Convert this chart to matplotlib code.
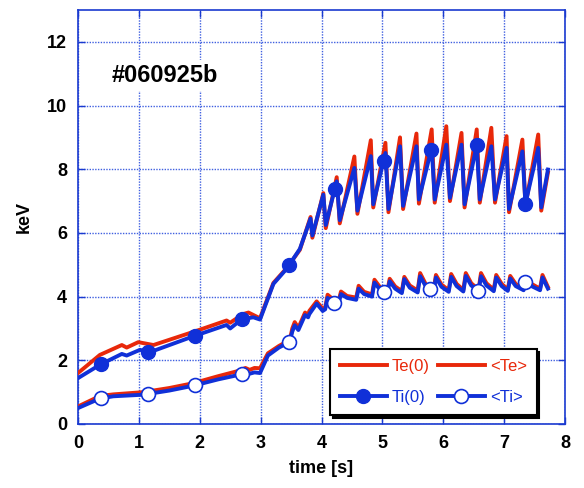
import numpy as np
import matplotlib
matplotlib.use("Agg")
import matplotlib.pyplot as plt
from matplotlib.lines import Line2D

plt.rcParams['font.family'] = ['Liberation Sans', 'DejaVu Sans']

# ---- data ----
te0_t = [0, 0.36, 0.72, 0.8, 0.99, 1.24, 2.0, 2.44, 2.5, 2.71, 2.8, 2.99, 3.21, 3.43, 3.645,
         3.82, 3.85, 4.03, 4.07, 4.25, 4.30, 4.54, 4.59, 4.81, 4.85, 5.05, 5.10, 5.29, 5.34,
         5.56, 5.60, 5.81, 5.86, 6.05, 6.11, 6.30, 6.35, 6.55, 6.60, 6.79, 6.85, 7.04, 7.08,
         7.30, 7.35, 7.56, 7.61, 7.72]
te0_v = [1.6, 2.17, 2.48, 2.4, 2.57, 2.48, 2.96, 3.25, 3.18, 3.45, 3.5, 3.32, 4.43, 4.9, 5.47,
         6.5, 5.85, 7.25, 6.15, 7.75, 6.3, 8.4, 6.6, 8.91, 6.8, 8.83, 6.65, 9.0, 6.75,
         9.12, 6.92, 9.25, 6.95, 9.35, 7.0, 9.14, 6.8, 9.25, 6.95, 9.3, 6.95, 9.04, 6.65,
         8.93, 6.85, 9.09, 6.7, 7.9]

ti0_t = [0, 0.36, 0.72, 0.8, 1.02, 1.16, 1.89, 2.44, 2.5, 2.69, 2.88, 2.99, 3.21, 3.43, 3.645,
         3.82, 3.85, 4.03, 4.07, 4.25, 4.30, 4.54, 4.59, 4.81, 4.85, 5.05, 5.10, 5.29, 5.34,
         5.56, 5.60, 5.81, 5.86, 6.05, 6.11, 6.30, 6.35, 6.55, 6.60, 6.79, 6.85, 7.04, 7.08,
         7.30, 7.35, 7.56, 7.61, 7.72]
ti0_v = [1.44, 1.86, 2.2, 2.15, 2.33, 2.24, 2.75, 3.11, 3.0, 3.29, 3.35, 3.28, 4.4, 4.88, 5.5,
         6.45, 5.92, 7.2, 6.25, 7.62, 6.4, 8.04, 6.7, 8.41, 6.9, 8.51, 6.75, 8.72, 6.85,
         8.72, 7.05, 8.67, 7.05, 8.77, 7.1, 8.77, 6.9, 8.77, 7.05, 8.72, 7.05, 8.67, 6.75,
         8.56, 6.92, 8.67, 6.8, 7.99]

tea_t = [0, 0.36, 0.58, 1.07, 1.5, 1.89, 2.3, 2.66, 2.75, 2.82, 2.9, 2.99, 3.12, 3.3, 3.48,
         3.52, 3.56, 3.62, 3.73, 3.78, 3.8, 3.92, 4.02, 4.06, 4.1, 4.2, 4.28,
         4.32, 4.42, 4.57, 4.61, 4.7, 4.83, 4.87, 4.96, 5.08, 5.12, 5.21, 5.32,
         5.36, 5.45, 5.58, 5.62, 5.71, 5.84, 5.88, 5.97, 6.09, 6.13, 6.22, 6.33,
         6.37, 6.46, 6.58, 6.62, 6.71, 6.83, 6.87, 6.96, 7.06, 7.10, 7.19, 7.32,
         7.36, 7.45, 7.59, 7.63, 7.72]
tea_v = [0.55, 0.88, 0.93, 1.0, 1.13, 1.28, 1.5, 1.68, 1.76, 1.7, 1.76, 1.75, 2.22, 2.45, 2.64,
         3.0, 3.2, 3.02, 3.5, 3.42, 3.55, 3.85, 3.62, 3.65, 4.06, 3.9, 3.85,
         4.16, 4.02, 3.97, 4.34, 4.15, 4.07, 4.53, 4.3, 4.16, 4.56, 4.32, 4.17,
         4.62, 4.35, 4.19, 4.74, 4.4, 4.2, 4.68, 4.38, 4.2, 4.71, 4.4, 4.21,
         4.74, 4.42, 4.22, 4.74, 4.42, 4.22, 4.68, 4.4, 4.22, 4.65, 4.4, 4.24,
         4.62, 4.4, 4.25, 4.68, 4.3]

tia_t = tea_t
tia_v = [0.5, 0.8, 0.87, 0.92, 1.05, 1.2, 1.4, 1.55, 1.62, 1.58, 1.62, 1.6, 2.15, 2.4, 2.58,
         2.9, 3.1, 2.95, 3.42, 3.35, 3.45, 3.78, 3.55, 3.6, 3.96, 3.82, 3.78,
         4.08, 3.96, 3.9, 4.25, 4.08, 4.0, 4.44, 4.22, 4.09, 4.48, 4.25, 4.11,
         4.55, 4.28, 4.13, 4.64, 4.33, 4.14, 4.6, 4.31, 4.15, 4.62, 4.33, 4.16,
         4.65, 4.35, 4.17, 4.64, 4.35, 4.17, 4.6, 4.33, 4.18, 4.57, 4.33, 4.2,
         4.55, 4.33, 4.2, 4.6, 4.25]

ti0_mark_t = [0.38, 1.15, 1.93, 2.7, 3.47, 4.22, 5.02, 5.8, 6.55, 7.35]
tia_mark_t = [0.38, 1.15, 1.93, 2.7, 3.47, 4.21, 5.02, 5.78, 6.57, 7.35]

shot_label = "#060925b"
xticks = [0, 1, 2, 3, 4, 5, 6, 7, 8]
yticks = [0, 2, 4, 6, 8, 10, 12]

RED = '#e8280a'
BLUE = '#1030d8'
AXC = '#1a3ad0'
GRID = '#4060e0'

fig = plt.figure(figsize=(5.84, 4.88), dpi=100)
ax = fig.add_axes([78/584, 1-424/488, (565-78)/584, (424-10)/488])

lw = 2.8
ax.plot(te0_t, te0_v, color=RED, lw=lw, solid_joinstyle='round', zorder=3)
ax.plot(tea_t, tea_v, color=RED, lw=lw, solid_joinstyle='round', zorder=3)
ax.plot(ti0_t, ti0_v, color=BLUE, lw=lw, solid_joinstyle='round', zorder=4)
ax.plot(tia_t, tia_v, color=BLUE, lw=lw, solid_joinstyle='round', zorder=4)

ax.plot(ti0_mark_t, np.interp(ti0_mark_t, ti0_t, ti0_v), 'o', color=BLUE, ms=10,
        mec=BLUE, zorder=5)
ax.plot(tia_mark_t, np.interp(tia_mark_t, tia_t, tia_v), 'o', color=BLUE, ms=10,
        mfc='white', mec=BLUE, mew=1.2, zorder=5)

ax.set_xlim(0, 8)
ax.set_ylim(0, 13)
ax.set_xticks(xticks)
ax.set_yticks(yticks)
ax.grid(True, color=GRID, ls=(0, (1, 1)), lw=1.0)
for s in ax.spines.values():
    s.set_color(AXC)
    s.set_linewidth(1.2)
ax.tick_params(direction='in', colors=AXC, length=5, width=1, top=True, right=True,
               labelsize=13, pad=8)
for lab in ax.get_xticklabels() + ax.get_yticklabels():
    lab.set_color('black')
    lab.set_fontweight('bold')

ax.set_xlabel('time [s]', fontsize=13, fontweight='bold', labelpad=6)
ax.set_ylabel('keV', fontsize=13, fontweight='bold', labelpad=10)

ax.text(0.55, 10.95, shot_label, fontsize=17, fontweight='bold', va='center', ha='left',
        bbox=dict(facecolor='white', edgecolor='none', pad=3), zorder=6)

handles = [
    Line2D([], [], color=RED, lw=lw),
    Line2D([], [], color=BLUE, lw=lw, marker='o', ms=10, mfc=BLUE, mec=BLUE),
    Line2D([], [], color=RED, lw=lw),
    Line2D([], [], color=BLUE, lw=lw, marker='o', ms=10, mfc='white', mec=BLUE, mew=1.2),
]
labels = ['Te(0)', 'Ti(0)', '<Te>', '<Ti>']
leg = ax.legend(handles, labels, ncol=2, loc='lower left',
                bbox_to_anchor=((330-78)/487, (424-415)/414), borderaxespad=0,
                fontsize=12, handlelength=2.8, handletextpad=0.3, columnspacing=0.5,
                labelspacing=0.95, borderpad=0.6, frameon=True, fancybox=False,
                shadow={'color': 'black', 'alpha': 1.0}, labelcolor='linecolor')
leg.get_frame().set_edgecolor('black')
leg.get_frame().set_linewidth(1.5)
leg.set_zorder(10)

fig.savefig('out.png', dpi=100)
